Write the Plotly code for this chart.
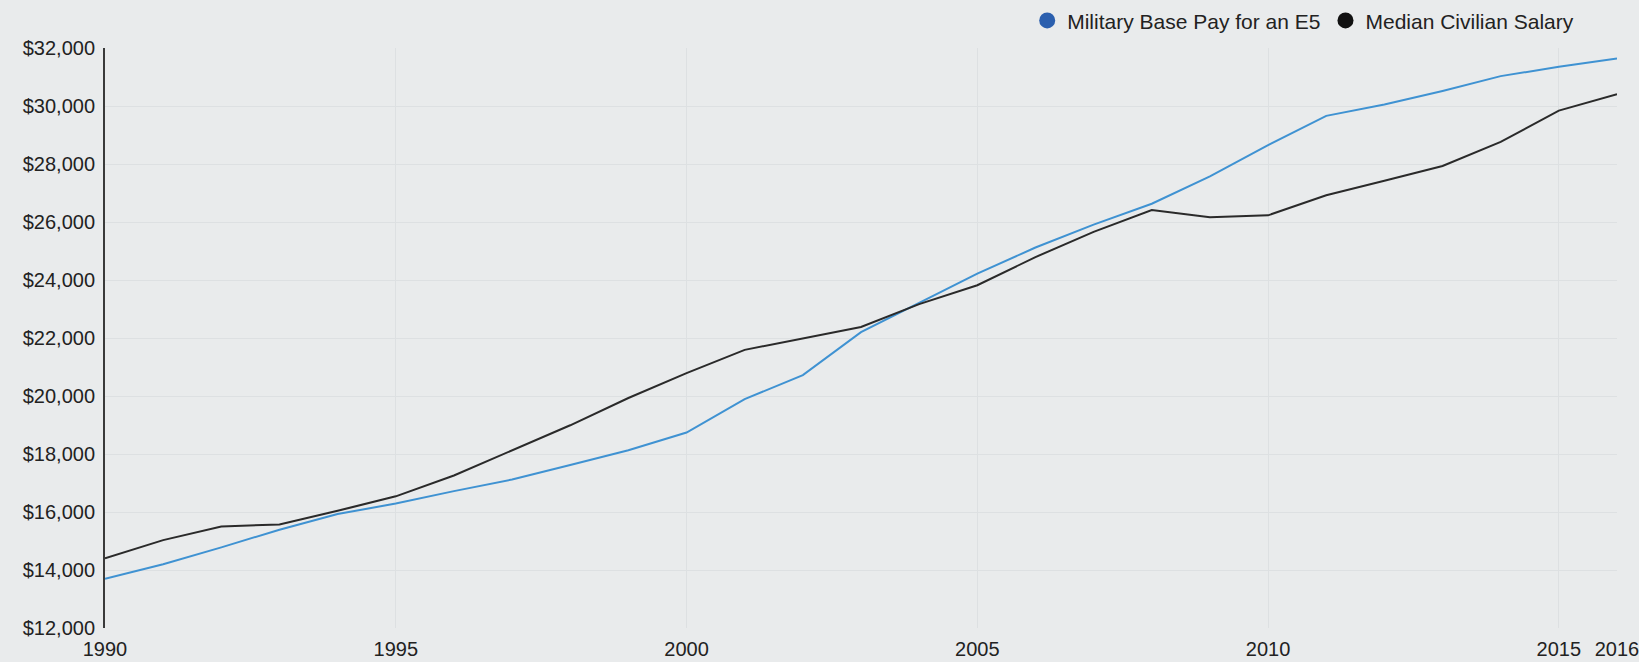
import plotly.graph_objects as go

years = list(range(1990, 2017))
military = [13700, 14200, 14780, 15390, 15930, 16290, 16720, 17120, 17620, 18130,
            18740, 19890, 20720, 22200, 23210, 24220, 25120, 25910, 26630, 27570,
            28650, 29660, 30050, 30520, 31030, 31350, 31640]
civilian = [14400, 15030, 15500, 15570, 16040, 16540, 17260, 18130, 18990, 19930,
            20790, 21590, 21980, 22380, 23170, 23820, 24790, 25660, 26410, 26160,
            26230, 26920, 27420, 27930, 28760, 29840, 30410]
x_ticks = [1990, 1995, 2000, 2005, 2010, 2015, 2016]
y_ticks = list(range(12000, 32001, 2000))
y_labels = ["${:,}".format(v) for v in y_ticks]

fig = go.Figure()
fig.add_trace(go.Scatter(x=years, y=military, mode="lines", showlegend=False,
                         line=dict(color="#3f92d2", width=2)))
fig.add_trace(go.Scatter(x=years, y=civilian, mode="lines", showlegend=False,
                         line=dict(color="#2a2a2a", width=2)))
fig.add_trace(go.Scatter(x=[None], y=[None], mode="markers", name="Military Base Pay for an E5",
                         marker=dict(color="#2b5fae", size=20, symbol="circle")))
fig.add_trace(go.Scatter(x=[None], y=[None], mode="markers", name="Median Civilian Salary",
                         marker=dict(color="#111111", size=20, symbol="circle")))

fig.update_layout(
    width=1639, height=662,
    margin=dict(l=105, r=22, t=48, b=34, autoexpand=False),
    paper_bgcolor="#e9ebec", plot_bgcolor="#e9ebec",
    font=dict(family="Liberation Sans, Arial, sans-serif", size=20, color="#222222"),
    legend=dict(orientation="h", x=0.975, xanchor="right", y=1.047, yanchor="middle",
                font=dict(size=21, color="#222222"), bgcolor="rgba(0,0,0,0)",
                itemsizing="trace", traceorder="normal", itemwidth=30),
    xaxis=dict(range=[1990, 2016], tickvals=x_ticks, ticktext=[str(t) for t in x_ticks],
               showgrid=True, gridcolor="#dde0e2", gridwidth=1, zeroline=False,
               showline=False, ticks="", tickfont=dict(size=20), ticklabelstandoff=7,
               automargin=False, ticklabeloverflow="allow"),
    yaxis=dict(range=[12000, 32000], tickvals=y_ticks, ticktext=y_labels,
               showgrid=True, gridcolor="#dde0e2", gridwidth=1, zeroline=False,
               showline=True, linecolor="#3a3a3a", linewidth=2, ticks="",
               tickfont=dict(size=20), ticklabelstandoff=4, automargin=False),
)

fig.write_html("out.html")
